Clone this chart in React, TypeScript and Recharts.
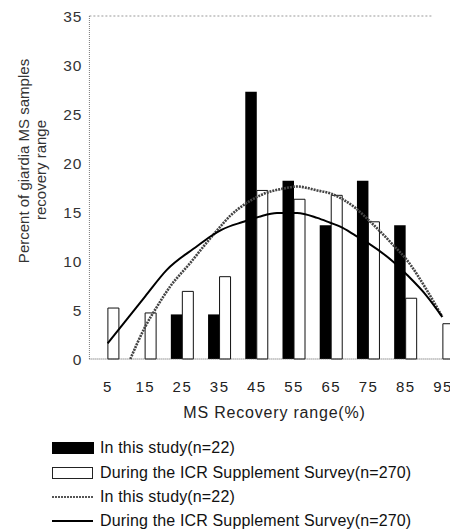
import React from 'react';
import { ComposedChart, Bar, Line, XAxis, YAxis, Legend, ReferenceLine, Label } from 'recharts';

const FONT = '"Liberation Sans", Arial, Helvetica, sans-serif';

const categories = ['5', '15', '25', '35', '45', '55', '65', '75', '85', '95'];
const studyBars = [0, 0, 4.55, 4.55, 27.27, 18.18, 13.64, 18.18, 13.64, 0];
const icrBars = [5.2, 4.7, 6.9, 8.4, 17.2, 16.3, 16.7, 14.0, 6.2, 3.6];

const studyLineX = [11, 15, 18.1, 21.7, 27.1, 30.7, 34.7, 37.8, 41.4, 45.9, 52.2, 55.8, 61.2, 64.7, 71.5, 75.5, 81.7, 85.3, 90.7, 94.8];
const studyLineY = [0, 3.3, 5.3, 7.4, 9.8, 11.5, 13.3, 14.6, 15.7, 16.7, 17.4, 17.6, 17.2, 16.9, 15.4, 14.0, 11.6, 10.1, 7.0, 4.3];

const icrLineX = [4.9, 15, 20.8, 28.9, 32.5, 35.6, 41.4, 45.5, 50.4, 55.8, 61.2, 64.7, 67.4, 71.5, 75, 81.7, 85.3, 90.7, 94.8];
const icrLineY = [1.6, 6.4, 9.1, 11.5, 12.5, 13.2, 14.0, 14.5, 14.9, 14.9, 14.4, 13.9, 13.5, 12.6, 11.8, 9.9, 8.6, 6.4, 4.3];

const yTicks = [0, 5, 10, 15, 20, 25, 30, 35];
const xTitle = 'MS Recovery range(%)';
const yTitle1 = 'Percent of giardia MS samples';
const yTitle2 = 'recovery range';
const legendLabels = [
  'In this study(n=22)',
  'During the ICR Supplement Survey(n=270)',
  'In this study(n=22)',
  'During the ICR Supplement Survey(n=270)',
];

const barData = categories.map((c, i) => ({ range: c, study: studyBars[i], icr: icrBars[i] }));
const studyLine = studyLineX.map((x, i) => ({ x, y: studyLineY[i] }));
const icrLine = icrLineX.map((x, i) => ({ x, y: icrLineY[i] }));

const symbols = [
  <rect key="a" x={0.5} y={1.5} width={41} height={11} fill="#000" stroke="#000" />,
  <rect key="b" x={0.5} y={1.5} width={40} height={11} fill="#fff" stroke="#222" />,
  <line key="c" x1={0} x2={41} y1={7} y2={7} stroke="#555" strokeWidth={2} strokeDasharray="2 1" />,
  <line key="d" x1={0} x2={41} y1={7} y2={7} stroke="#000" strokeWidth={2} />,
];

const renderLegend = () => (
  <div style={{ fontFamily: FONT, fontSize: 16, color: '#111', letterSpacing: 0.15 }}>
    {legendLabels.map((l, i) => (
      <div key={i} style={{ display: 'flex', alignItems: 'center', height: 24.4, whiteSpace: 'nowrap' }}>
        <svg width={42} height={14} style={{ marginRight: 6, display: 'block' }}>{symbols[i]}</svg>
        <span>{l}</span>
      </div>
    ))}
  </div>
);

export default function App() {
  return (
    <div style={{ width: 450, height: 524, overflow: 'hidden', position: 'relative', background: '#fff' }}>
      <ComposedChart
        width={470}
        height={524}
        data={barData}
        margin={{ top: 8, right: 16.4, left: 21.4, bottom: 143 }}
        barGap={0}
        barCategoryGap={0}
      >
        <XAxis
          xAxisId="cat"
          dataKey="range"
          type="category"
          height={30}
          tickLine={false}
          tickSize={6}
          tickMargin={16}
          axisLine={{ stroke: '#555', strokeDasharray: '1 1' }}
          tick={{ fontSize: 15, fill: '#222', fontFamily: FONT, letterSpacing: 1.5 }}
          interval={0}
        >
          <Label
            content={() => (
              <text x={266.5} y={404} textAnchor="middle" dominantBaseline="central" fontSize={16} fill="#222" fontFamily={FONT} letterSpacing={0.8}>
                {xTitle}
              </text>
            )}
          />
        </XAxis>
        <XAxis xAxisId="num" dataKey="x" type="number" domain={[0, 100]} allowDataOverflow hide />
        <YAxis
          width={60}
          domain={[0, 35]}
          ticks={yTicks}
          interval={0}
          tickLine={false}
          tickSize={6}
          tickMargin={1}
          axisLine={{ stroke: '#777', strokeDasharray: '1 1' }}
          tick={{ fontSize: 15.5, fill: '#333', fontFamily: FONT, letterSpacing: 1 }}
        >
          <Label
            content={() => (
              <g fontFamily={FONT} fontSize={15} fill="#333">
                <text transform="translate(15,153) rotate(-90)" textAnchor="middle" dominantBaseline="central">{yTitle1}</text>
                <text transform="translate(32,162) rotate(-90)" textAnchor="middle" dominantBaseline="central">{yTitle2}</text>
              </g>
            )}
          />
        </YAxis>
        <ReferenceLine
          xAxisId="num"
          segment={[{ x: 0, y: 35 }, { x: 92.4, y: 35 }]}
          stroke="#999"
          strokeDasharray="2 2"
          ifOverflow="visible"
        />
        <Bar xAxisId="cat" dataKey="study" barSize={11.5} fill="#000" isAnimationActive={false} />
        <Bar xAxisId="cat" dataKey="icr" barSize={11} fill="#fff" stroke="#111" strokeWidth={1} isAnimationActive={false} />
        <Line
          xAxisId="num"
          data={studyLine}
          dataKey="y"
          type="monotone"
          stroke="#444"
          strokeWidth={2.6}
          strokeDasharray="2 1"
          dot={false}
          isAnimationActive={false}
        />
        <Line
          xAxisId="num"
          data={icrLine}
          dataKey="y"
          type="monotone"
          stroke="#000"
          strokeWidth={2}
          dot={false}
          isAnimationActive={false}
        />
        <Legend
          layout="vertical"
          align="center"
          verticalAlign="middle"
          content={renderLegend}
          wrapperStyle={{ left: 44, top: 428, width: 420, height: 100 }}
        />
      </ComposedChart>
    </div>
  );
}
